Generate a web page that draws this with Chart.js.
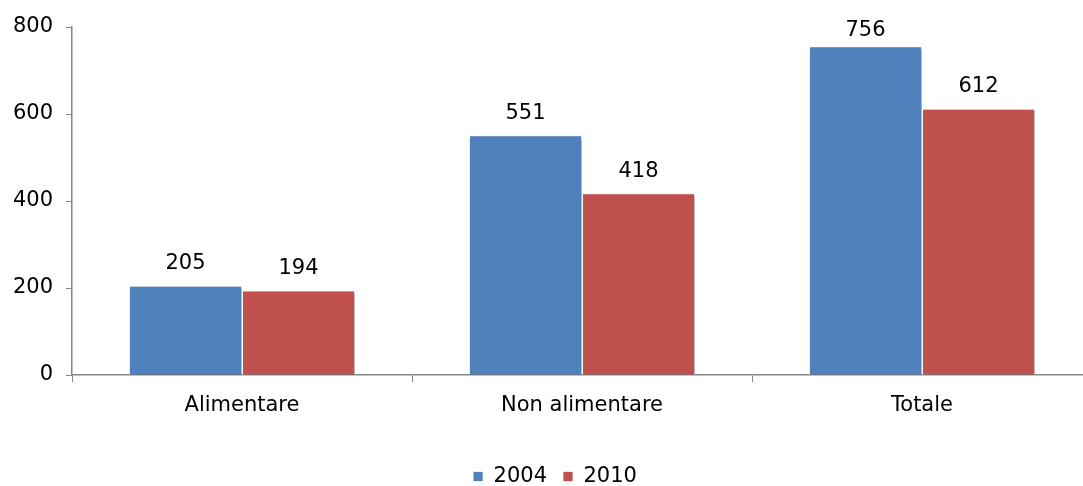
<!DOCTYPE html>
<html><head><meta charset="utf-8">
<script src="https://cdn.jsdelivr.net/npm/chart.js@4/dist/chart.umd.min.js"></script>
<style>
html,body{margin:0;padding:0;background:#fff;overflow:hidden;}
#wrap{width:1083px;height:486px;overflow:hidden;position:relative;}
#box{width:1100px;height:497px;position:absolute;left:0;top:0;}
</style></head><body>
<div id="wrap"><div id="box"><canvas id="c"></canvas></div></div>
<script>
const categories = ['Alimentare', 'Non alimentare', 'Totale'];
const seriesNames = ['2004', '2010'];
const values2004 = [205, 551, 756];
const values2010 = [194, 418, 612];
const yTicks = [0, 200, 400, 600, 800];

const FONT = 'DejaVu Sans, Verdana, sans-serif';

const shadowPlugin = {
  id: 'shadow',
  afterLayout(chart) {
    if (chart.legend) { chart.legend.left = 18; }
  },
  beforeDatasetsDraw(chart) {
    const ctx = chart.ctx;
    ctx.save();
    ctx.shadowColor = 'rgba(0,0,0,0.35)';
    ctx.shadowOffsetX = 1.5;
    ctx.shadowOffsetY = 1.5;
    ctx.shadowBlur = 3;
  },
  afterDatasetsDraw(chart) {
    const ctx = chart.ctx;
    ctx.restore();
    ctx.save();
    ctx.font = '21px ' + FONT;
    ctx.fillStyle = '#000';
    ctx.textAlign = 'center';
    ctx.textBaseline = 'middle';
    chart.data.datasets.forEach((ds, di) => {
      const meta = chart.getDatasetMeta(di);
      meta.data.forEach((bar, i) => {
        let y = bar.y - 22;
        if (y < 31) y = 31;
        ctx.fillText(String(ds.data[i]), bar.x, y);
      });
    });
    ctx.restore();
  }
};

new Chart(document.getElementById('c'), {
  type: 'bar',
  data: {
    labels: categories,
    datasets: [
      { label: seriesNames[0], data: values2004, backgroundColor: '#4F81BD', borderColor: '#ffffff', borderWidth: {left:1,right:1,top:1,bottom:0}, categoryPercentage: 0.665, barPercentage: 1.0 },
      { label: seriesNames[1], data: values2010, backgroundColor: '#C0504D', borderColor: '#ffffff', borderWidth: {left:1,right:1,top:1,bottom:0}, categoryPercentage: 0.665, barPercentage: 1.0 }
    ]
  },
  options: {
    responsive: true,
    maintainAspectRatio: false,
    animation: false,
    layout: { padding: { left: 0, right: 8, top: 27, bottom: 0 } },
    plugins: {
      tooltip: { enabled: false },
      legend: {
        position: 'bottom',
        labels: {
          font: { family: FONT, size: 21 },
          color: '#000',
          boxWidth: 10,
          boxHeight: 10,
          padding: 16,
          useBorderRadius: false
        }
      }
    },
    scales: {
      x: {
        afterFit(s) { s.height = 75; },
        grid: { offset: true, drawOnChartArea: false, drawTicks: true, tickLength: 7, color: '#868686' },
        border: { color: '#868686', width: 1.5 },
        ticks: { font: { family: FONT, size: 21 }, color: '#000', padding: 11 }
      },
      y: {
        min: 0, max: 800,
        afterFit(s) { s.width = 72; },
        afterBuildTicks(s) { s.ticks = yTicks.map(v => ({ value: v })); },
        grid: { drawOnChartArea: false, drawTicks: true, tickLength: 6, color: '#868686' },
        border: { color: '#868686', width: 1.5 },
        ticks: { font: { family: FONT, size: 21 }, color: '#000', padding: 13 }
      }
    }
  },
  plugins: [shadowPlugin]
});
</script>
</body></html>
